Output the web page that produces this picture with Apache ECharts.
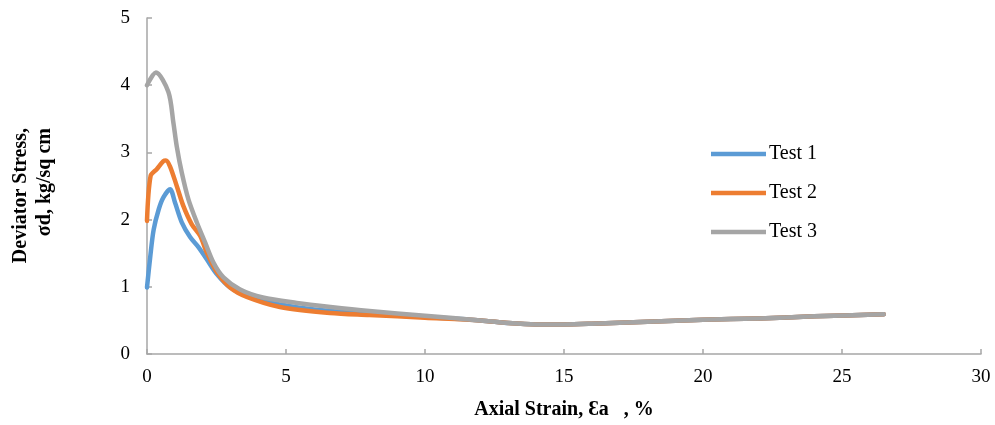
<!DOCTYPE html>
<html>
<head>
<meta charset="utf-8">
<script src="https://cdn.jsdelivr.net/npm/echarts@6/dist/echarts.min.js"></script>
<style>
  html, body { margin: 0; padding: 0; background: #fff; }
  #chart { width: 995px; height: 425px; }
</style>
</head>
<body>
<div id="chart"></div>
<script>
var seriesNames = ['Test 1', 'Test 2', 'Test 3'];
var seriesColors = ['#5b9bd5', '#ed7d31', '#a5a5a5'];

var strain1 = [0, 0.12, 0.24, 0.42, 0.59, 0.83, 1.01, 1.25, 1.55, 1.85, 2.15, 2.51, 2.99, 3.59, 4.5, 5.5, 6.6, 8, 10, 12, 13, 14, 15, 16, 18, 20, 22, 24, 26.5];
var stress1 = [0.99, 1.46, 1.85, 2.15, 2.33, 2.45, 2.25, 1.96, 1.74, 1.59, 1.41, 1.19, 0.99, 0.86, 0.76, 0.69, 0.64, 0.6, 0.55, 0.5, 0.46, 0.44, 0.44, 0.45, 0.48, 0.51, 0.53, 0.56, 0.59];

var strain2 = [0, 0.13, 0.35, 0.59, 0.68, 0.83, 1.07, 1.31, 1.61, 1.91, 2.15, 2.51, 2.99, 3.59, 4.78, 6.58, 8, 10, 12, 13, 14, 15, 16, 18, 20, 22, 24, 26.5];
var stress2 = [1.98, 2.65, 2.75, 2.87, 2.88, 2.79, 2.5, 2.2, 1.93, 1.76, 1.51, 1.22, 0.99, 0.85, 0.7, 0.61, 0.58, 0.54, 0.5, 0.46, 0.44, 0.44, 0.45, 0.48, 0.51, 0.53, 0.56, 0.59];

var strain3 = [0, 0.32, 0.77, 0.95, 1.07, 1.25, 1.49, 1.79, 2.09, 2.39, 2.75, 3.35, 4.17, 5.39, 6.6, 8, 10, 12, 13, 14, 15, 16, 18, 20, 22, 24, 26.5];
var stress3 = [4.0, 4.19, 3.9, 3.44, 3.09, 2.7, 2.3, 1.96, 1.66, 1.36, 1.14, 0.96, 0.84, 0.76, 0.7, 0.64, 0.57, 0.5, 0.46, 0.44, 0.44, 0.45, 0.48, 0.51, 0.53, 0.56, 0.59];

var strains = [strain1, strain2, strain3];
var stresses = [stress1, stress2, stress3];

var fontName = '"Liberation Serif", "Times New Roman", serif';
var axisColor = '#a6a6a6';

function pairs(xs, ys) {
    var out = [];
    for (var i = 0; i < xs.length; i++) {
        out.push([xs[i], ys[i]]);
    }
    return out;
}

var myChart = echarts.init(document.getElementById('chart'), null, { renderer: 'canvas' });

var series = seriesNames.map(function (name, i) {
    return {
        name: name,
        type: 'line',
        data: pairs(strains[i], stresses[i]),
        smooth: 0.3,
        symbol: 'none',
        lineStyle: { color: seriesColors[i], width: 4.5, cap: 'round', join: 'round' },
        itemStyle: { color: seriesColors[i] }
    };
});

var option = {
    animation: false,
    backgroundColor: '#fff',
    textStyle: { fontFamily: fontName },
    grid: { left: 147, right: 14, top: 18, bottom: 70 },
    legend: {
        orient: 'vertical',
        left: 706,
        top: 139,
        itemWidth: 55,
        itemHeight: 20,
        itemGap: 19,
        data: seriesNames.map(function (n, i) {
            return { name: n, icon: 'path://M0,0 L55,0 L55,4.5 L0,4.5 Z', itemStyle: { color: seriesColors[i] } };
        }),
        textStyle: { fontFamily: fontName, fontSize: 20, color: '#000', padding: [0, 0, 0, -2] }
    },
    xAxis: {
        type: 'value',
        min: 0,
        max: 30,
        interval: 5,
        name: 'Axial Strain, Ɛa   , %',
        nameLocation: 'middle',
        nameGap: 46,
        nameTextStyle: { fontFamily: fontName, fontSize: 20, fontWeight: 'bold', color: '#000' },
        axisLine: { show: true, lineStyle: { color: axisColor, width: 1.5 } },
        axisTick: { show: true, inside: true, length: 5, lineStyle: { color: axisColor, width: 1.5 } },
        axisLabel: { fontFamily: fontName, fontSize: 19, color: '#000', margin: 14 },
        splitLine: { show: false }
    },
    yAxis: {
        type: 'value',
        min: 0,
        max: 5,
        interval: 1,
        axisLine: { show: true, lineStyle: { color: axisColor, width: 1.5 } },
        axisTick: { show: true, inside: true, length: 5, lineStyle: { color: axisColor, width: 1.5 } },
        axisLabel: { fontFamily: fontName, fontSize: 19, color: '#000', margin: 17 },
        splitLine: { show: false }
    },
    graphic: [
        {
            type: 'text',
            x: 21,
            y: 128,
            rotation: Math.PI / 2,
            style: {
                text: 'Deviator Stress,',
                fontFamily: fontName,
                fontSize: 20,
                fontWeight: 'bold',
                fill: '#000',
                textAlign: 'right',
                textVerticalAlign: 'middle'
            }
        },
        {
            type: 'text',
            x: 45,
            y: 128,
            rotation: Math.PI / 2,
            style: {
                text: 'σd, kg/sq cm',
                fontFamily: fontName,
                fontSize: 20,
                fontWeight: 'bold',
                fill: '#000',
                textAlign: 'right',
                textVerticalAlign: 'middle'
            }
        }
    ],
    series: series
};

myChart.setOption(option);
</script>
</body>
</html>
